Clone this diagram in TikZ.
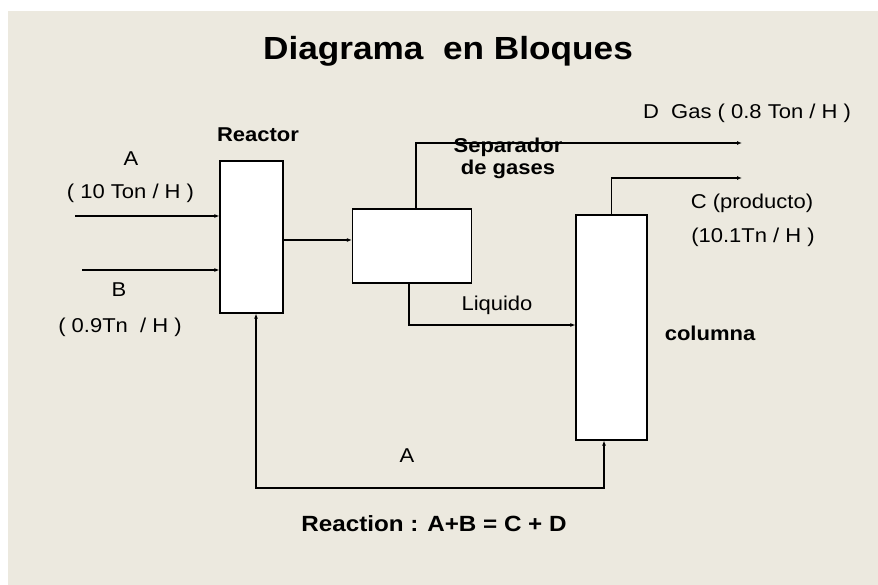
\documentclass[tikz,border=0pt]{standalone}
\usepackage{fontspec}
\setmainfont[FakeStretch=1.1]{Liberation Sans}
\usetikzlibrary{positioning,arrows.meta}
\definecolor{sheet}{HTML}{ECE9DF}

\begin{document}
\begin{tikzpicture}[x=1pt, y=-1pt, line width=1.2pt,
  block/.style={draw, fill=white, inner sep=0pt},
  flow/.style={-{Latex[length=5pt,width=4pt]}},
  lbl/.style={font=\fontsize{20}{22}\selectfont, inner sep=0pt, anchor=base},
  hd/.style={font=\fontsize{20}{22}\selectfont\bfseries, inner sep=0pt, anchor=base}]
% page
\fill[white] (0,0) rectangle (878,585);
\fill[sheet] (8,11) rectangle (878,585);
\useasboundingbox (0,0) rectangle (878,585);
\node[font=\fontsize{32}{36}\selectfont\bfseries, inner sep=0pt, anchor=base] (title) at (448,60) {Diagrama \ en Bloques};
% blocks
\node[block, minimum width=63pt, minimum height=152pt] (reactor) at (251.5,237) {};
\node[block, minimum width=119pt, minimum height=74pt] (sep) at (412,246) {};
\node[block, minimum width=71pt, minimum height=225pt] (col) at (611.5,327.5) {};
% labels
\node[hd] (rlab) at (258,142) {Reactor};
\node[hd] (slab) at (508,153) {Separador};
\node[hd] (slab2) at (508,175) {de gases};
\node[hd] (clabel) at (710,340) {columna};
\node[lbl] (alab) at (131,166) {A};
\node[lbl] (arate) at (130.5,199) {( 10 Ton / H )};
\node[lbl] (blab) at (119,297) {B};
\node[lbl] (brate) at (120,332) {( 0.9Tn \ / H )};
\node[lbl] (dlab) at (747,118.5) {D\ \ Gas ( 0.8 Ton / H )};
\node[lbl] (clab) at (752,209) {C (producto)};
\node[lbl] (crate) at (753,243) {(10.1Tn / H )};
\node[lbl] (liq) at (497,310.5) {Liquido};
\node[lbl] (rec) at (407,462.5) {A};
\node[hd, font=\fontsize{22}{24}\selectfont\bfseries] (eq) at (434,531) {Reaction : A+B = C + D};
% streams
\coordinate (ain) at (75,216);
\coordinate (bin) at (82,270);
\coordinate (sepin) at ([yshift=6pt]sep.west);
\coordinate (liqin) at ([yshift=2.5pt]col.west);
\coordinate (gasend) at (742,143);
\coordinate (prodend) at (742,178);
\coordinate (loop) at (430,488);
\draw[flow] (ain) -- (ain -| reactor.west);
\draw[flow] (bin) -- (bin -| reactor.west);
\draw[flow] (reactor.east |- sepin) -- (sepin);
\draw[flow] ([xshift=4pt]sep.north) |- (gasend);
\draw[flow] (col.north) |- (prodend);
\draw[flow] ([xshift=-3pt]sep.south) |- (liqin);
\draw[{Latex[length=5pt,width=4pt]}-{Latex[length=5pt,width=4pt]}] ([xshift=4.5pt]reactor.south) |- (loop) -| ([xshift=-7.5pt]col.south);
\end{tikzpicture}
\end{document}
